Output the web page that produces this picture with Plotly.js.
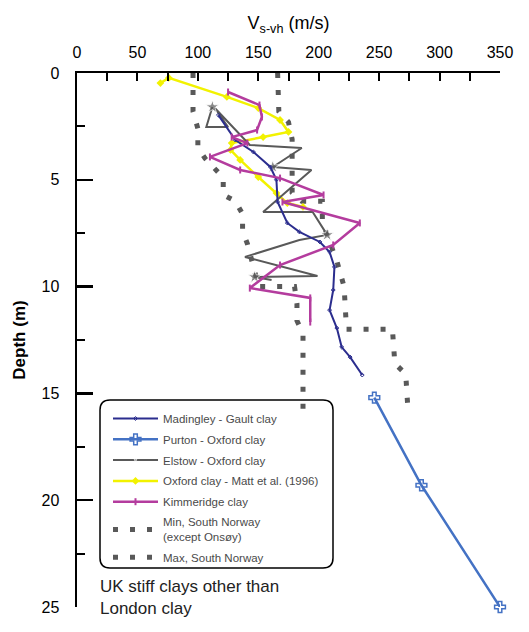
<!DOCTYPE html>
<html>
<head>
<meta charset="utf-8">
<script src="https://cdn.plot.ly/plotly-3.0.1.min.js"></script>
<style>
  html, body { margin: 0; padding: 0; background: #fff; }
  #chart { width: 529px; height: 632px; }
</style>
</head>
<body>
<div id="chart"></div>
<script>
// Shear-wave velocity V_s-vh against depth for UK stiff clays (excluding London clay)

// Madingley - Gault clay
const madingleyDepth = [1.97, 3.14, 3.70, 4.40, 5.0, 6.04, 7.02, 7.44, 7.91, 8.38, 9.08, 10.16, 11.1, 11.94, 12.83, 13.3, 14.14];
const madingleyVs    = [117, 131, 146, 160, 165, 166, 174, 184, 201, 209, 213, 212, 209, 215, 219, 226, 236];

// Purton - Oxford clay
const purtonDepth = [15.2, 19.3, 25.0];
const purtonVs    = [246, 285, 350];

// Elstow - Oxford clay
const elstowDepth = [1.59, 2.53, 2.53, 1.64, 3.37, 3.51, 4.40, 4.54, 5.62, 6.51, 6.51, 7.58, 7.82, 8.61, 9.50, 9.55, 9.69];
const elstowVs    = [112, 107, 125, 114, 143, 186, 162, 194, 172, 154, 195, 207, 184, 139, 199, 147, 161];

// Oxford clay - Matt et al. (1996)
const mattDepth = [0.47, 0.23, 1.12, 1.64, 2.2, 2.76, 3.0, 3.28, 3.6, 4.07, 4.87, 5.62, 6.09, 6.27];
const mattVs    = [69, 76, 124, 150, 168, 175, 154, 128, 127, 135, 150, 165, 174, 187];

// Kimmeridge clay
const kimmDepth = [0.89, 1.5, 2.06, 2.67, 3.0, 3.28, 3.93, 4.54, 4.92, 5.71, 6.04, 7.02, 8.05, 8.99, 10.07, 10.53, 11.66];
const kimmVs    = [125, 151, 153, 149, 128, 141, 110, 135, 168, 204, 170, 234, 212, 168, 143, 193, 193];

// South Norway bounds
const minNorwayDepth = [0, 1.8, 2.6, 3.5, 4.0, 4.9, 5.7, 6.0, 6.6, 7.4, 8.0, 9.5, 10.0, 10.0, 10.8, 11.6, 12.2, 15.9];
const minNorwayVs    = [96, 96, 100, 100, 106, 121, 121, 131, 137, 137, 141, 148, 149, 180, 182, 182, 187, 187];
const maxNorwayDepth = [0, 1.8, 2.3, 3.1, 5.6, 6.0, 6.0, 6.9, 7.6, 8.8, 10.0, 11.7, 12.0, 12.0, 13.6, 14.1, 15.9];
const maxNorwayVs    = [166, 167, 175, 178, 178, 186, 203, 203, 207, 215, 221, 223, 223, 261, 263, 272, 274];

// Axis ticks
const xTicks = [0, 50, 100, 150, 200, 250, 300, 350];
const yTicks = [0, 5, 10, 15, 20, 25];

const seriesNames = [
  'Madingley - Gault clay',
  'Purton - Oxford clay',
  'Elstow - Oxford clay',
  'Oxford clay - Matt et al. (1996)',
  'Kimmeridge clay',
  'Min, South Norway<br>(except Onsøy)',
  'Max, South Norway'
];

const GREY = '#595959';
const dotted = { color: GREY, width: 5, dash: '5px,12px' };

// Stars only on a few Elstow points
const elstowStarIdx = [0, 6, 11, 15];
const elstowSizes = elstowDepth.map((_, i) => elstowStarIdx.includes(i) ? 10 : 0);

const traces = [
  { x: minNorwayVs, y: minNorwayDepth, name: seriesNames[5], legendrank: 6, legendgroup: 'g6',
    mode: 'lines', line: dotted },
  { x: maxNorwayVs, y: maxNorwayDepth, name: seriesNames[6], legendrank: 7, legendgroup: 'g7',
    mode: 'lines', line: dotted },
  { x: purtonVs, y: purtonDepth, name: seriesNames[1], legendrank: 2, legendgroup: 'g2',
    mode: 'lines+markers', cliponaxis: false,
    line: { color: '#4472C4', width: 2.5 },
    marker: { symbol: 'cross-open', size: 9, color: '#4472C4', line: { width: 1.5, color: '#4472C4' } } },
  { x: mattVs, y: mattDepth, name: seriesNames[3], legendrank: 4, legendgroup: 'g4',
    mode: 'lines+markers',
    line: { color: '#F2F200', width: 2.5 },
    marker: { symbol: 'diamond', size: 6, color: '#F2F200' } },
  { x: elstowVs, y: elstowDepth, name: seriesNames[2], legendrank: 3, legendgroup: 'g3',
    mode: 'lines+markers',
    line: { color: GREY, width: 2 },
    marker: { symbol: 'star', size: elstowSizes, color: GREY } },
  { x: madingleyVs, y: madingleyDepth, name: seriesNames[0], legendrank: 1, legendgroup: 'g1',
    mode: 'lines+markers',
    line: { color: '#2B2D8E', width: 2 },
    marker: { symbol: 'diamond-open', size: 3, color: '#2B2D8E', line: { width: 1, color: '#2B2D8E' } } },
  { x: kimmVs, y: kimmDepth, name: seriesNames[4], legendrank: 5, legendgroup: 'g5',
    mode: 'lines+markers',
    line: { color: '#B43C9E', width: 2.5 },
    marker: { symbol: 'line-ns-open', size: 5, color: '#B43C9E', line: { width: 2, color: '#B43C9E' } } }
];

// Plot area in pixels: x 77..500, y 73..607
const L = 77, R = 500, T = 73, B = 607;
const px = v => (v - L) / (R - L);
const py = v => (B - v) / (B - T);

// Rounded legend frame
function roundedRect(x0, y0, x1, y1, r) {
  const a = px(x0), b = px(x1), top = py(y0), bot = py(y1);
  const rx = r / (R - L), ry = r / (B - T);
  return `M${a + rx},${top} L${b - rx},${top} Q${b},${top} ${b},${top - ry} ` +
         `L${b},${bot + ry} Q${b},${bot} ${b - rx},${bot} ` +
         `L${a + rx},${bot} Q${a},${bot} ${a},${bot + ry} ` +
         `L${a},${top - ry} Q${a},${top} ${a + rx},${top} Z`;
}

const layout = {
  width: 529, height: 632,
  margin: { l: L, r: 529 - R, t: T, b: 632 - B, pad: 0 },
  paper_bgcolor: '#fff', plot_bgcolor: '#fff',
  font: { family: 'Liberation Sans, Arial, sans-serif', color: '#000' },
  showlegend: true,
  xaxis: {
    side: 'top', range: [0, 350], fixedrange: true,
    tickvals: xTicks, ticktext: xTicks.map(String),
    ticks: 'inside', ticklen: 8, tickwidth: 2, tickcolor: '#000',
    minor: { dtick: 25, tick0: 0, ticks: 'inside', ticklen: 8, tickwidth: 2, tickcolor: '#000' },
    showline: true, linecolor: '#000', linewidth: 2.5,
    showgrid: false, zeroline: false,
    tickfont: { size: 16 }, ticklabelstandoff: 6,
    title: { text: 'V<sub>s-vh</sub> (m/s)', font: { size: 18 }, standoff: 10 }
  },
  yaxis: {
    range: [25, 0], fixedrange: true,
    tickvals: yTicks, ticktext: yTicks.map(String),
    ticks: 'inside', ticklen: 16, tickwidth: 2.5, tickcolor: '#000',
    minor: { dtick: 2.5, tick0: 0, ticks: 'inside', ticklen: 8, tickwidth: 2, tickcolor: '#000' },
    showline: true, linecolor: '#000', linewidth: 2.5,
    showgrid: false, zeroline: false,
    tickfont: { size: 16 }, ticklabelstandoff: 12,
    title: { text: 'Depth (m)', font: { size: 17, weight: 'bold' }, standoff: 12 }
  },
  legend: {
    x: px(108), y: py(404), xanchor: 'left', yanchor: 'top',
    bgcolor: 'rgba(0,0,0,0)', borderwidth: 0,
    font: { size: 11.5, color: '#4a4a4a' },
    itemwidth: 45, traceorder: 'grouped', tracegroupgap: 1.8
  },
  shapes: [
    { type: 'path', xref: 'paper', yref: 'paper', path: roundedRect(100, 400, 333, 568, 10),
      line: { color: '#000', width: 1.5 }, fillcolor: 'rgba(0,0,0,0)', layer: 'above' }
  ],
  annotations: [
    { xref: 'paper', yref: 'paper', x: px(98), y: py(575), xanchor: 'left', yanchor: 'top',
      align: 'left', showarrow: false,
      text: 'UK stiff clays other than<br>London clay',
      font: { size: 17, color: '#222' } }
  ]
};

Plotly.newPlot('chart', traces, layout, { displayModeBar: false, staticPlot: true });
</script>
</body>
</html>
